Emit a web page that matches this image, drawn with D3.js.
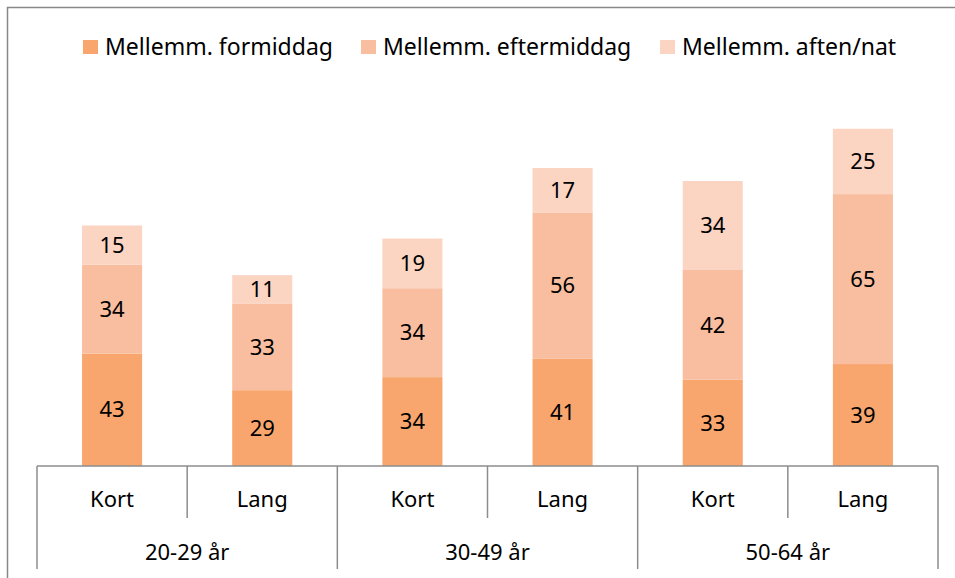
<!DOCTYPE html>
<html>
<head>
<meta charset="utf-8">
<script src="https://cdn.jsdelivr.net/npm/d3@7"></script>
<style>
  body { margin: 0; background: #fff; }
  svg text { font-family: "Noto Sans", "Open Sans", sans-serif; fill: #000; }
</style>
</head>
<body>
<svg id="chart" width="955" height="578"></svg>
<script>
// data
const groups = ["20-29 år", "30-49 år", "50-64 år"];
const subCats = ["Kort", "Lang"];
const seriesNames = ["Mellemm. formiddag", "Mellemm. eftermiddag", "Mellemm. aften/nat"];
const formiddag = [43, 29, 34, 41, 33, 39];
const eftermiddag = [34, 33, 34, 56, 42, 65];
const aftenNat = [15, 11, 19, 17, 34, 25];
const colors = ["#F8A66E", "#F9BE9F", "#FBD4C2"];

const svg = d3.select("#chart");
const margin = {left: 37, right: 17, top: 100, bottom: 112};
const W = 955, H = 578;
const plotBottom = H - margin.bottom; // 466

// outer frame (right/bottom edges run past the picture)
svg.append("rect")
    .attr("x", 7.5).attr("y", 7.5)
    .attr("width", 1000).attr("height", 1000)
    .attr("fill", "none").attr("stroke", "#888").attr("stroke-width", 1.5);

// build rows
const rows = [];
groups.forEach((g, gi) => subCats.forEach((s, si) => {
    const i = gi * 2 + si;
    rows.push({key: g + "|" + s, group: g, sub: s, v0: formiddag[i], v1: eftermiddag[i], v2: aftenNat[i]});
}));

const x = d3.scaleBand()
    .domain(rows.map(d => d.key))
    .range([margin.left, W - margin.right])
    .paddingInner(0).paddingOuter(0);
const barW = x.bandwidth() * 0.4;

const y = d3.scaleLinear().domain([0, 140]).range([plotBottom, margin.top]);

const stack = d3.stack().keys(["v0", "v1", "v2"]);
const stacked = stack(rows);

const layers = svg.selectAll("g.layer")
    .data(stacked)
    .enter().append("g")
    .attr("class", "layer")
    .attr("fill", (d, i) => colors[i]);

layers.selectAll("rect")
    .data(d => d)
    .enter().append("rect")
    .attr("x", d => x(d.data.key) + (x.bandwidth() - barW) / 2)
    .attr("y", d => y(d[1]))
    .attr("width", barW)
    .attr("height", d => y(d[0]) - y(d[1]));

// value labels
layers.selectAll("text")
    .data(d => d)
    .enter().append("text")
    .attr("x", d => x(d.data.key) + x.bandwidth() / 2)
    .attr("y", d => (y(d[0]) + y(d[1])) / 2)
    .attr("dy", "0.35em")
    .attr("text-anchor", "middle")
    .attr("font-size", 22)
    .text(d => d[1] - d[0]);

// two-level category axis
const axisCol = "#8c8c8c";
const ax = svg.append("g").attr("stroke", axisCol).attr("stroke-width", 1.5);
ax.append("line")
    .attr("x1", x.range()[0]).attr("x2", x.range()[1])
    .attr("y1", plotBottom).attr("y2", plotBottom);

// separators between sub-categories
rows.forEach((d, i) => {
    if (i % 2 === 1) {
        ax.append("line")
            .attr("x1", x(d.key)).attr("x2", x(d.key))
            .attr("y1", plotBottom).attr("y2", plotBottom + 52);
    }
});
// separators between groups
for (let gi = 0; gi <= groups.length; gi++) {
    const xx = gi < groups.length ? x(rows[gi * 2].key) : x.range()[1];
    ax.append("line")
        .attr("x1", xx).attr("x2", xx)
        .attr("y1", plotBottom).attr("y2", plotBottom + 103);
}

svg.selectAll("text.sub")
    .data(rows)
    .enter().append("text")
    .attr("class", "sub")
    .attr("x", d => x(d.key) + x.bandwidth() / 2)
    .attr("y", plotBottom + 41)
    .attr("text-anchor", "middle")
    .attr("font-size", 22)
    .text(d => d.sub);

svg.selectAll("text.grp")
    .data(groups)
    .enter().append("text")
    .attr("class", "grp")
    .attr("x", (g, gi) => x(rows[gi * 2].key) + x.bandwidth())
    .attr("y", plotBottom + 94)
    .attr("text-anchor", "middle")
    .attr("font-size", 22)
    .text(d => d);

// legend
const legendX = [83, 361, 660];
const leg = svg.selectAll("g.leg")
    .data(seriesNames)
    .enter().append("g")
    .attr("class", "leg")
    .attr("transform", (d, i) => `translate(${legendX[i]},40)`);
leg.append("rect")
    .attr("width", 15).attr("height", 14)
    .attr("fill", (d, i) => colors[i]);
leg.append("text")
    .attr("x", 22).attr("y", 7)
    .attr("dy", "0.35em")
    .attr("font-size", 23)
    .text(d => d);
</script>
</body>
</html>
